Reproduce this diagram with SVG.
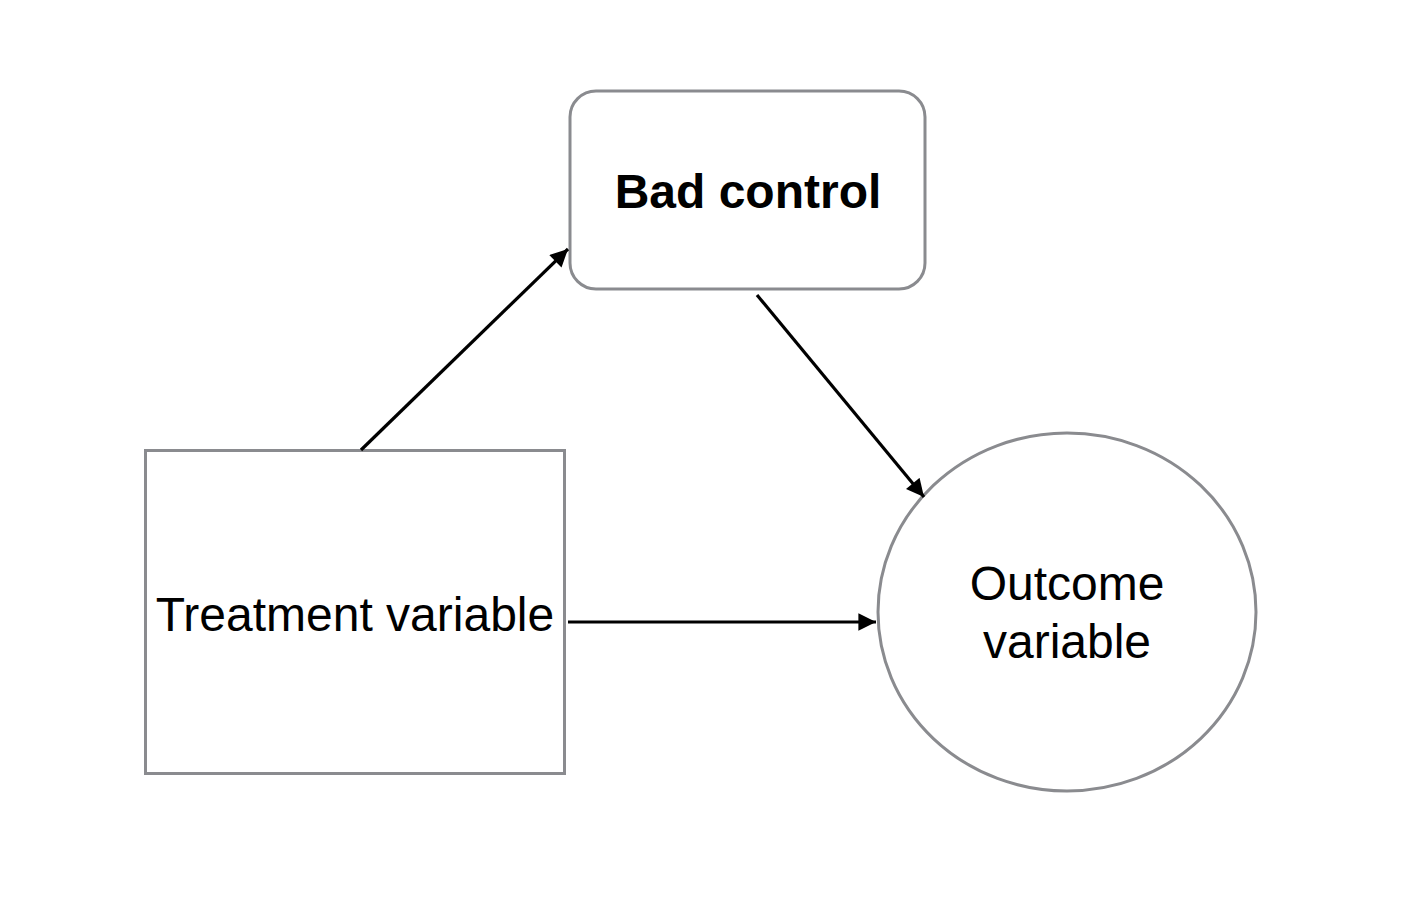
<svg xmlns="http://www.w3.org/2000/svg" width="1402" height="920" viewBox="0 0 1402 920">
<defs>
<style>
.node{fill:#fff;stroke:#8a8b8f;stroke-width:3}
.lbl{font-family:"Liberation Sans",Arial,sans-serif;font-size:48px;fill:#000;text-anchor:middle}
.edge{stroke:#000;stroke-width:3.2;fill:none}
</style>
<marker id="ah" viewBox="0 0 10 10" refX="10" refY="5" markerWidth="6" markerHeight="5.5" markerUnits="strokeWidth" orient="auto">
<path d="M0,0 L10,5 L0,10 z" fill="#000"/>
</marker>
</defs>
<rect width="1402" height="920" fill="#fff"/>
<g id="bad-control">
<rect class="node" x="570" y="91" width="355" height="198" rx="26" ry="26"/>
<text class="lbl" x="748" y="208" font-weight="bold">Bad control</text>
</g>
<g id="treatment">
<rect class="node" x="145.5" y="450.5" width="419" height="323"/>
<text class="lbl" x="355" y="631">Treatment variable</text>
</g>
<g id="outcome">
<ellipse class="node" cx="1067" cy="612" rx="189" ry="179"/>
<text class="lbl" x="1067" y="600">Outcome</text>
<text class="lbl" x="1067" y="658">variable</text>
</g>
<g id="connectors">
<line class="edge" x1="361" y1="450" x2="568" y2="249" marker-end="url(#ah)"/>
<line class="edge" x1="757" y1="295" x2="924" y2="497" marker-end="url(#ah)"/>
<line class="edge" x1="568" y1="622" x2="876" y2="622" marker-end="url(#ah)"/>
</g>
</svg>
